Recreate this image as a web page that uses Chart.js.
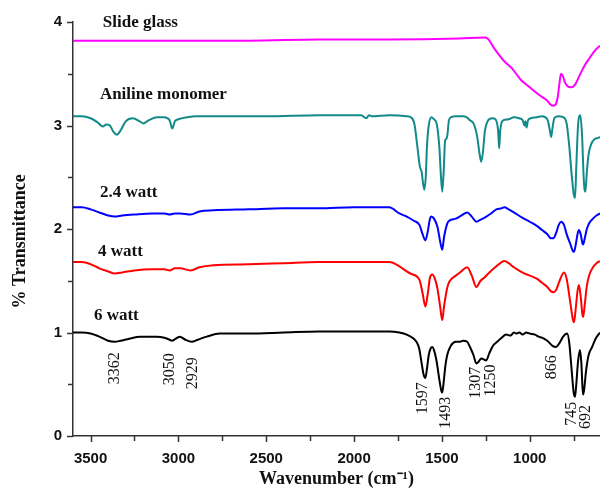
<!DOCTYPE html>
<html>
<head>
<meta charset="utf-8">
<script src="https://cdn.jsdelivr.net/npm/chart.js@4.4.0/dist/chart.umd.min.js"></script>
<style>
  html, body { margin: 0; padding: 0; background: #fff; }
  canvas { display: block; }
</style>
</head>
<body>
<canvas id="ftirChart" width="600" height="490"></canvas>
<script>
// Espectros FTIR (numero de onda -> % transmitancia desplazada)
const glassWn = [3600, 3400, 3000, 2600, 2200, 1800, 1400, 1260, 1240, 1200, 1150, 1100, 1050, 1000, 950, 900, 880, 865, 850, 840, 830, 822, 812, 800, 785, 765, 750, 740, 720, 700, 680, 660, 640, 620, 600];
const glassT = [3.82, 3.82, 3.82, 3.82, 3.83, 3.83, 3.84, 3.85, 3.84, 3.74, 3.63, 3.55, 3.44, 3.37, 3.30, 3.24, 3.20, 3.19, 3.21, 3.28, 3.42, 3.50, 3.48, 3.42, 3.38, 3.37, 3.38, 3.40, 3.47, 3.54, 3.60, 3.65, 3.70, 3.74, 3.77];

const anilineWn = [3600, 3550, 3500, 3460, 3430, 3410, 3390, 3370, 3350, 3330, 3300, 3260, 3220, 3200, 3170, 3120, 3080, 3050, 3035, 3020, 3000, 2950, 2900, 2800, 2500, 2200, 1960, 1930, 1915, 1900, 1800, 1700, 1670, 1655, 1640, 1625, 1615, 1608, 1600, 1592, 1585, 1575, 1560, 1545, 1530, 1515, 1505, 1498, 1490, 1482, 1475, 1468, 1460, 1447, 1420, 1380, 1360, 1340, 1320, 1300, 1285, 1276, 1266, 1255, 1240, 1215, 1195, 1180, 1174, 1168, 1160, 1150, 1120, 1090, 1060, 1040, 1030, 1025, 1018, 1010, 995, 960, 930, 900, 885, 878, 870, 860, 840, 810, 790, 775, 760, 748, 742, 735, 725, 712, 702, 693, 688, 683, 675, 665, 650, 630, 610, 600];
const anilineT = [3.09, 3.09, 3.07, 3.03, 2.99, 3.01, 3.00, 2.94, 2.91, 2.95, 3.04, 3.07, 3.04, 3.02, 3.05, 3.08, 3.08, 3.05, 2.97, 3.04, 3.06, 3.08, 3.09, 3.09, 3.09, 3.10, 3.10, 3.07, 3.10, 3.09, 3.10, 3.09, 3.07, 3.00, 2.80, 2.60, 2.55, 2.45, 2.38, 2.50, 2.80, 3.00, 3.08, 3.06, 3.02, 2.80, 2.50, 2.36, 2.55, 2.85, 2.87, 2.92, 3.05, 3.08, 3.09, 3.09, 3.08, 3.05, 3.02, 2.90, 2.72, 2.65, 2.75, 2.95, 3.04, 3.07, 3.06, 2.95, 2.78, 2.95, 3.03, 3.05, 3.06, 3.08, 3.07, 3.05, 3.00, 3.04, 2.98, 3.05, 3.07, 3.08, 3.09, 3.06, 2.95, 2.89, 2.98, 3.07, 3.09, 3.08, 3.02, 2.80, 2.50, 2.32, 2.30, 2.60, 3.00, 3.10, 2.90, 2.50, 2.38, 2.36, 2.55, 2.72, 2.82, 2.87, 2.88, 2.89];

const watt24Wn = [3600, 3550, 3500, 3450, 3400, 3362, 3320, 3250, 3150, 3080, 3050, 3020, 2990, 2930, 2880, 2800, 2600, 2400, 2200, 2000, 1800, 1742, 1700, 1660, 1628, 1610, 1594, 1580, 1568, 1560, 1545, 1525, 1510, 1498, 1488, 1470, 1458, 1420, 1390, 1356, 1330, 1304, 1280, 1247, 1220, 1190, 1160, 1145, 1120, 1090, 1043, 1000, 960, 930, 900, 880, 865, 850, 835, 822, 805, 790, 770, 755, 748, 738, 728, 720, 710, 700, 696, 688, 675, 660, 640, 620, 600];
const watt24T = [2.21, 2.21, 2.19, 2.16, 2.13, 2.12, 2.13, 2.14, 2.15, 2.15, 2.14, 2.15, 2.15, 2.14, 2.17, 2.18, 2.19, 2.20, 2.20, 2.21, 2.21, 2.15, 2.12, 2.08, 2.04, 1.95, 1.89, 1.98, 2.10, 2.12, 2.10, 2.02, 1.88, 1.80, 1.92, 2.05, 2.08, 2.10, 2.13, 2.16, 2.12, 2.07, 2.09, 2.12, 2.15, 2.19, 2.20, 2.21, 2.19, 2.16, 2.11, 2.07, 2.03, 1.99, 1.95, 1.91, 1.91, 1.96, 2.04, 2.07, 2.04, 1.95, 1.86, 1.79, 1.78, 1.85, 1.95, 1.99, 1.95, 1.86, 1.85, 1.90, 2.00, 2.06, 2.10, 2.13, 2.15];

const watt4Wn = [3600, 3550, 3500, 3450, 3400, 3362, 3320, 3250, 3150, 3080, 3050, 3020, 2990, 2930, 2880, 2800, 2600, 2400, 2200, 2000, 1800, 1742, 1725, 1680, 1628, 1610, 1594, 1580, 1568, 1555, 1540, 1525, 1510, 1498, 1488, 1470, 1458, 1420, 1390, 1356, 1330, 1304, 1280, 1259, 1230, 1190, 1160, 1145, 1120, 1090, 1043, 1000, 960, 930, 900, 880, 865, 850, 830, 805, 790, 770, 755, 748, 740, 728, 720, 710, 700, 696, 688, 675, 660, 640, 620, 600];
const watt4T = [1.68, 1.68, 1.66, 1.62, 1.59, 1.57, 1.58, 1.60, 1.61, 1.61, 1.60, 1.62, 1.62, 1.60, 1.63, 1.65, 1.66, 1.67, 1.68, 1.68, 1.68, 1.64, 1.62, 1.57, 1.51, 1.38, 1.25, 1.38, 1.53, 1.56, 1.52, 1.42, 1.25, 1.12, 1.25, 1.43, 1.49, 1.55, 1.59, 1.63, 1.55, 1.44, 1.50, 1.53, 1.58, 1.64, 1.68, 1.69, 1.67, 1.63, 1.58, 1.55, 1.52, 1.48, 1.44, 1.40, 1.39, 1.41, 1.50, 1.58, 1.52, 1.30, 1.13, 1.10, 1.20, 1.40, 1.46, 1.35, 1.17, 1.15, 1.25, 1.45, 1.56, 1.63, 1.67, 1.69];

const watt6Wn = [3600, 3550, 3500, 3450, 3400, 3362, 3330, 3280, 3219, 3123, 3080, 3050, 3037, 3015, 2992, 2960, 2924, 2890, 2839, 2765, 2600, 2400, 2200, 2000, 1800, 1742, 1700, 1660, 1645, 1630, 1615, 1605, 1594, 1585, 1575, 1563, 1555, 1545, 1530, 1515, 1505, 1498, 1490, 1480, 1470, 1450, 1420, 1401, 1380, 1356, 1340, 1320, 1304, 1290, 1276, 1262, 1248, 1230, 1210, 1185, 1160, 1134, 1110, 1090, 1077, 1060, 1040, 1020, 1000, 970, 950, 930, 900, 870, 850, 830, 810, 787, 775, 762, 750, 742, 735, 725, 714, 706, 700, 696, 690, 680, 665, 645, 625, 600];
const watt6T = [1.00, 1.00, 0.99, 0.96, 0.92, 0.91, 0.92, 0.94, 0.96, 0.96, 0.95, 0.93, 0.92, 0.94, 0.96, 0.93, 0.91, 0.93, 0.96, 0.99, 0.99, 1.00, 1.01, 1.01, 1.01, 1.00, 0.98, 0.94, 0.91, 0.85, 0.70, 0.60, 0.56, 0.65, 0.78, 0.85, 0.86, 0.83, 0.72, 0.55, 0.45, 0.42, 0.52, 0.68, 0.78, 0.87, 0.91, 0.91, 0.92, 0.91, 0.86, 0.78, 0.70, 0.72, 0.75, 0.74, 0.73, 0.80, 0.87, 0.91, 0.95, 0.98, 0.97, 1.00, 0.99, 1.00, 0.98, 1.00, 0.99, 0.98, 0.96, 0.95, 0.92, 0.87, 0.86, 0.90, 0.96, 0.99, 0.90, 0.65, 0.42, 0.38, 0.50, 0.72, 0.83, 0.70, 0.48, 0.40, 0.45, 0.62, 0.78, 0.86, 0.94, 1.00];

// Nombres de las curvas y donde van
const seriesNames = ['Slide glass', 'Aniline monomer', '2.4 watt', '4 watt', '6 watt'];
const nameWn = [3430, 3447, 3447, 3458, 3481];
const nameT = [3.99, 3.30, 2.35, 1.78, 1.16];

// Bandas marcadas bajo la curva de 6 watt
const peakLabels = ['3362', '3050', '2929', '1597', '1493', '1307', '1250', '866', '745', '692'];
const peakWn = [3361, 3049, 2918, 1611, 1475, 1305, 1219, 873, 759, 680];
const peakT = [0.81, 0.80, 0.76, 0.52, 0.38, 0.67, 0.69, 0.78, 0.33, 0.30];

const xTickValues = [3500, 3000, 2500, 2000, 1500, 1000];
const yTickValues = [0, 1, 2, 3, 4];
const yTitle = '% Transmittance';

function toPoints(wn, t) {
  return wn.map((w, i) => ({ x: w, y: t[i] }));
}

const colores = ['#ff00ff', '#138a8a', '#0000ff', '#ff0000', '#000000'];
const series = [
  toPoints(glassWn, glassT),
  toPoints(anilineWn, anilineT),
  toPoints(watt24Wn, watt24T),
  toPoints(watt4Wn, watt4T),
  toPoints(watt6Wn, watt6T)
];

// Dibuja marcas menores, titulo del eje y, nombres y numeros de banda
const etiquetasPlugin = {
  id: 'etiquetas',
  afterDraw(chart) {
    const ctx = chart.ctx;
    const xs = chart.scales.x;
    const ys = chart.scales.y;
    const area = chart.chartArea;
    ctx.save();
    ctx.strokeStyle = '#333';
    ctx.lineWidth = 1.5;
    // marcas eje x
    for (let v = 750; v <= 3500; v += 250) {
      const px = Math.round(xs.getPixelForValue(v)) + 0.5;
      const len = v % 500 === 0 ? 6 : 5;
      ctx.beginPath();
      ctx.moveTo(px, area.bottom);
      ctx.lineTo(px, area.bottom + len);
      ctx.stroke();
    }
    // marcas eje y
    for (let v = 0; v <= 4; v += 0.5) {
      const py = Math.round(ys.getPixelForValue(v)) + 0.5;
      const len = v % 1 === 0 ? 6 : 5;
      ctx.beginPath();
      ctx.moveTo(area.left, py);
      ctx.lineTo(area.left - len, py);
      ctx.stroke();
    }

    ctx.fillStyle = '#111';
    // titulo del eje y (un poco por debajo del centro, como el original)
    ctx.font = 'bold 18px "Liberation Serif"';
    ctx.textAlign = 'center';
    ctx.textBaseline = 'middle';
    ctx.save();
    ctx.translate(20, ys.getPixelForValue(1.88));
    ctx.rotate(-Math.PI / 2);
    ctx.fillText(yTitle, 0, 0);
    ctx.restore();

    ctx.font = 'bold 17px "Liberation Serif"';
    ctx.textAlign = 'left';
    seriesNames.forEach((name, i) => {
      ctx.fillText(name, xs.getPixelForValue(nameWn[i]), ys.getPixelForValue(nameT[i]));
    });

    ctx.font = '16px "Liberation Serif"';
    ctx.textAlign = 'right';
    peakLabels.forEach((lab, i) => {
      ctx.save();
      ctx.translate(xs.getPixelForValue(peakWn[i]), ys.getPixelForValue(peakT[i]));
      ctx.rotate(-Math.PI / 2);
      ctx.fillText(lab, 0, 0);
      ctx.restore();
    });
    ctx.restore();
  }
};

const ctx = document.getElementById('ftirChart').getContext('2d');

let ftirChart = new Chart(ctx, {
  type: 'line',
  data: {
    datasets: series.map((pts, i) => ({
      label: seriesNames[i],
      data: pts,
      borderColor: colores[i],
      borderWidth: 2,
      pointRadius: 0,
      cubicInterpolationMode: 'monotone',
      fill: false
    }))
  },
  options: {
    responsive: false,
    animation: false,
    layout: { padding: { top: 22, right: 0, bottom: 0, left: 0 } },
    plugins: {
      legend: { display: false },
      tooltip: { enabled: false }
    },
    scales: {
      x: {
        type: 'linear',
        reverse: true,
        min: 600,
        max: 3600,
        afterBuildTicks: scale => {
          scale.ticks = xTickValues.map(v => ({ value: v }));
        },
        afterFit: scale => { scale.height = 54; },
        grid: { display: true, drawOnChartArea: false, drawTicks: false },
        border: { display: true, color: '#333', width: 1.5 },
        ticks: {
          color: '#111',
          padding: 14,
          maxRotation: 0,
          callback: value => String(value),
          font: { family: 'Liberation Sans', size: 15, weight: 'bold' }
        },
        title: {
          display: true,
          text: 'Wavenumber (cm\u207B\u00B9)',
          color: '#111',
          padding: { top: 0, bottom: 0 },
          font: { family: 'Liberation Serif', size: 18, weight: 'bold' }
        }
      },
      y: {
        min: 0,
        max: 4,
        afterBuildTicks: scale => {
          scale.ticks = yTickValues.map(v => ({ value: v }));
        },
        afterFit: scale => { scale.width = 73; },
        grid: { display: true, drawOnChartArea: false, drawTicks: false },
        border: { display: true, color: '#333', width: 1.5 },
        ticks: {
          color: '#111',
          padding: 11,
          callback: value => String(value),
          font: { family: 'Liberation Sans', size: 15, weight: 'bold' }
        }
      }
    }
  },
  plugins: [etiquetasPlugin]
});
</script>
</body>
</html>
